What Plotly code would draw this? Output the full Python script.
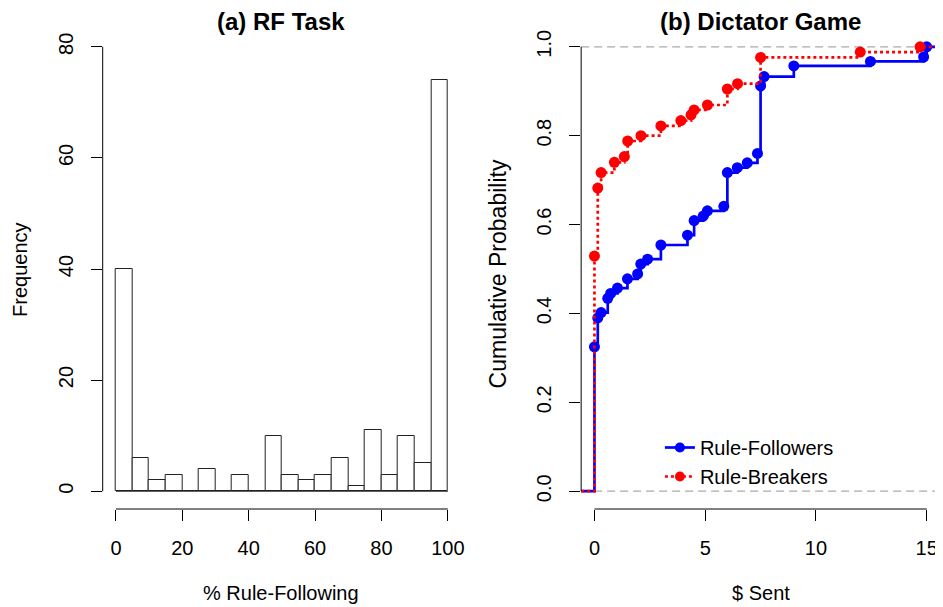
import plotly.graph_objects as go

# (a) RF task: histogram counts, 5-point bins
bin_starts = list(range(0, 100, 5))
bin_counts = [40, 6, 2, 3, 0, 4, 0, 3, 0, 10, 3, 2, 3, 6, 1, 11, 3, 10, 5, 74]
bin_width = 5

# (b) dictator game: empirical CDF of $ sent
follow_x = [0, 0.15, 0.3, 0.6, 0.73, 1.04, 1.49, 1.95, 2.09, 2.4, 3.0, 4.2, 4.5,
            4.91, 5.1, 5.84, 6.0, 6.45, 6.9, 7.36, 7.5, 7.66, 9.0, 12.46, 14.86, 15.0]
follow_y = [0.325, 0.390, 0.402, 0.434, 0.445, 0.457, 0.478, 0.489, 0.511, 0.522,
            0.554, 0.576, 0.609, 0.619, 0.631, 0.641, 0.717, 0.728, 0.739, 0.760,
            0.912, 0.933, 0.957, 0.967, 0.977, 1.0]
break_x = [0, 0.15, 0.3, 0.9, 1.35, 1.5, 2.1, 3.0, 3.9, 4.36, 4.5, 5.1, 6.0, 6.46,
           7.5, 12.0, 14.7]
break_y = [0.529, 0.682, 0.717, 0.740, 0.753, 0.788, 0.800, 0.822, 0.834, 0.847,
           0.858, 0.869, 0.905, 0.917, 0.976, 0.988, 1.0]

hist_xticks = [0, 20, 40, 60, 80, 100]
hist_yticks = [0, 20, 40, 60, 80]
ecdf_xticks = [0, 5, 10, 15]
ecdf_yticks = [0, 0.2, 0.4, 0.6, 0.8, 1.0]

FONT = "Liberation Sans, Arial, sans-serif"
# the page body has an 8px margin, so the figure is shrunk to fit the window
OFF = 8
W, H = 943 - OFF, 607 - OFF


def px(x):
    return (x - OFF) / W


def py(y):
    return 1 - (y - OFF) / H


def pad(lo, hi):
    # R style 4% axis extension
    d = (hi - lo) * 0.04
    return [lo - d, hi + d]


hist_xr = pad(0, 100)
hist_yr = pad(0, 80)
ecdf_xr = pad(0, 15)
ecdf_yr = pad(0, 1)

fig = go.Figure()

fig.add_trace(go.Bar(
    x=[s + bin_width / 2 for s in bin_starts], y=bin_counts, width=bin_width,
    marker=dict(color="white", line=dict(color="#222", width=1)),
    xaxis="x", yaxis="y", showlegend=False, hoverinfo="x+y",
))


def ecdf_trace(xs, ys, name, color, dash):
    # extend the step function to both edges of the plot like plot.ecdf
    sx = [ecdf_xr[0]] + xs + [ecdf_xr[1]]
    sy = [0] + ys + [ys[-1]]
    sizes = [0] + [11] * len(xs) + [0]
    return go.Scatter(
        x=sx, y=sy, name=name, mode="lines+markers", line_shape="hv",
        line=dict(color=color, width=2.7, dash=dash),
        marker=dict(color=color, size=sizes, opacity=1, line=dict(width=0)),
        xaxis="x2", yaxis="y2",
    )


fig.add_trace(ecdf_trace(follow_x, follow_y, "Rule-Followers", "#0000ff", "solid"))
fig.add_trace(ecdf_trace(break_x, break_y, "Rule-Breakers", "#ff0000", "3px,3px"))

axis_common = dict(
    showgrid=False, zeroline=False, showline=False, ticks="outside", ticklen=11,
    tickwidth=1, tickcolor="black", tickfont=dict(family=FONT, size=20, color="black"),
    ticklabelstandoff=10,
)

fig.update_layout(
    width=W, height=H, margin=dict(l=0, r=0, t=0, b=0),
    plot_bgcolor="white", paper_bgcolor="white",
    font=dict(family=FONT, size=20, color="black"),
    bargap=0,
    xaxis=dict(domain=[px(103), px(462.6)], range=hist_xr, tickvals=hist_xticks,
               anchor="y", **axis_common),
    yaxis=dict(domain=[py(509), py(29)], range=hist_yr, tickvals=hist_yticks,
               tickangle=-90, anchor="x", **axis_common),
    xaxis2=dict(domain=[px(583), 1.0], range=ecdf_xr, tickvals=ecdf_xticks,
                anchor="y2", **axis_common),
    yaxis2=dict(domain=[py(509), py(29)], range=ecdf_yr, tickvals=ecdf_yticks,
                tickformat=".1f", tickangle=-90, anchor="x2", **axis_common),
    legend=dict(x=px(662), y=py(428), xanchor="left", yanchor="top",
                bgcolor="rgba(0,0,0,0)", font=dict(family=FONT, size=20),
                tracegroupgap=0),
)

line_black = dict(color="black", width=1)
grey_dash = dict(color="#aaaaaa", width=1.3, dash="8px,5px")
shapes = [
    # R-style axis lines that only span the tick range
    dict(type="line", xref="x", yref="y domain", x0=min(hist_xticks), x1=max(hist_xticks),
         y0=0, y1=0, line=line_black),
    dict(type="line", xref="x domain", yref="y", x0=0, x1=0,
         y0=min(hist_yticks), y1=max(hist_yticks), line=line_black),
    dict(type="line", xref="x", yref="y", x0=bin_starts[0], x1=bin_starts[-1] + bin_width,
         y0=0, y1=0, line=dict(color="#222", width=1)),
    dict(type="line", xref="x2", yref="y2 domain", x0=min(ecdf_xticks), x1=max(ecdf_xticks),
         y0=0, y1=0, line=line_black),
    dict(type="line", xref="x2 domain", yref="y2", x0=0, x1=0,
         y0=min(ecdf_yticks), y1=max(ecdf_yticks), line=line_black),
    dict(type="line", xref="x2 domain", yref="y2", x0=0, x1=1, y0=0, y1=0,
         line=grey_dash, layer="below"),
    dict(type="line", xref="x2 domain", yref="y2", x0=0, x1=1, y0=1, y1=1,
         line=grey_dash, layer="below"),
]
fig.update_layout(shapes=shapes)


def label(text, x, y, size=20, angle=0):
    return dict(text=text, x=px(x), y=py(y), xref="paper", yref="paper",
                showarrow=False, textangle=angle, xanchor="center", yanchor="middle",
                font=dict(family=FONT, size=size, color="black"))


fig.update_layout(annotations=[
    label("<b>(a) RF Task</b>", 282, 21, size=24),
    label("<b>(b) Dictator Game</b>", 763, 21, size=24),
    label("% Rule-Following", 282, 593),
    label("$ Sent", 763, 593),
    label("Frequency", 20, 269, angle=-90),
    label("Cumulative Probability", 500, 274, size=23, angle=-90),
])

fig.write_html("out.html")
